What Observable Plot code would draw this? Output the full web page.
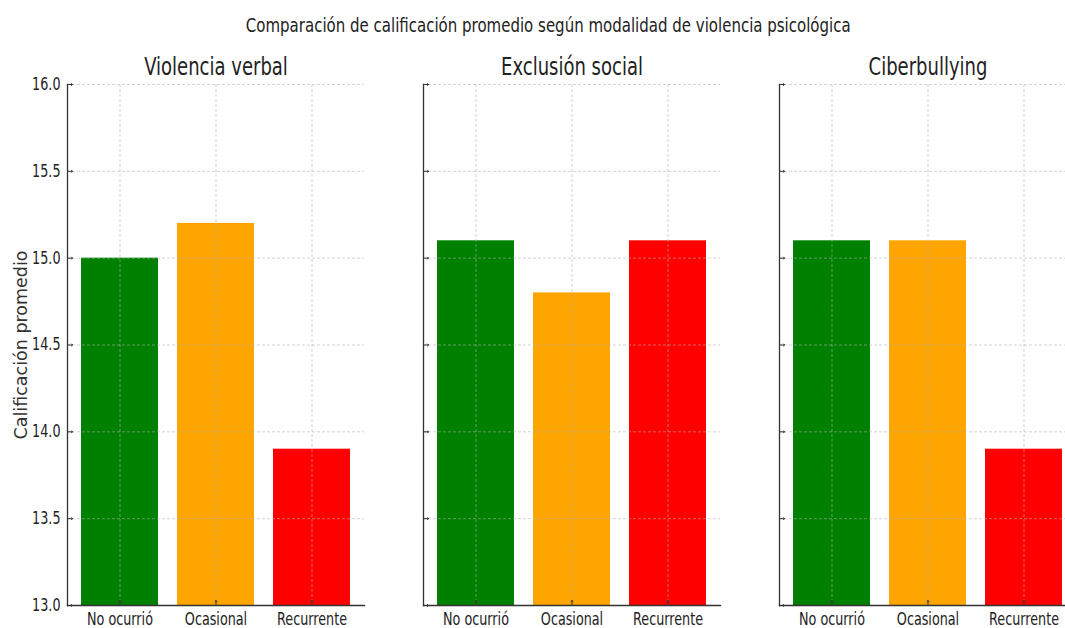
<!DOCTYPE html>
<html>
<head>
<meta charset="utf-8">
<script src="https://cdn.jsdelivr.net/npm/d3@7"></script>
<script src="https://cdn.jsdelivr.net/npm/@observablehq/plot@0.6"></script>
<style>
  html, body { margin: 0; padding: 0; background: #fff; }
  #root { position: relative; width: 1065px; height: 628px; overflow: hidden; font-family: "DejaVu Sans", sans-serif; color: #222; }
  #title { position: absolute; left: 0; top: 15px; width: 1096px; text-align: center; font-size: 20px; line-height: 20px; white-space: nowrap; }
  #title span { display: inline-block; transform: scaleX(0.75); transform-origin: center; }
  .panel { position: absolute; top: 0; }
</style>
</head>
<body>
<div id="root">
  <div id="title"><span>Comparación de calificación promedio según modalidad de violencia psicológica</span></div>
</div>
<script>
// ---- Data ----
const tituloGeneral = "Comparación de calificación promedio según modalidad de violencia psicológica";
const categorias = ["No ocurrió", "Ocasional", "Recurrente"];
const modalidades = ["Violencia verbal", "Exclusión social", "Ciberbullying"];
const violenciaVerbal = [15.0, 15.2, 13.9];
const exclusionSocial = [15.1, 14.8, 15.1];
const ciberbullying = [15.1, 15.1, 13.9];
const colores = ["green", "orange", "red"];
const yDominio = [13, 16];
const yTicks = [13.0, 13.5, 14.0, 14.5, 15.0, 15.5, 16.0];
const etiquetaY = "Calificación promedio";

// ---- Layout ----
const frameLefts = [67, 423, 779];
const ML = 67, MR = 10, FW = 297;
const SQUEEZE = 0.75;
const root = document.getElementById("root");

const series = [violenciaVerbal, exclusionSocial, ciberbullying];

series.forEach((vals, p) => {
  const data = categorias.map((c, i) => ({cat: c, v: vals[i]}));
  const first = p === 0;
  const gridStyle = {stroke: "#b0b0b0", strokeOpacity: 0.7, strokeWidth: 0.8, strokeDasharray: "3,2"};
  const marks = [
    Plot.barY(data, {x: "cat", y1: yDominio[0], y2: "v", fill: "cat"}),
    Plot.gridY(yTicks, gridStyle),
    Plot.gridX(categorias, gridStyle),
    Plot.frame({anchor: "left", stroke: "#333", strokeWidth: 1.3}),
    Plot.frame({anchor: "bottom", stroke: "#333", strokeWidth: 1.3}),
    Plot.vector(yTicks, {y: d => d, frameAnchor: "left", length: 5, rotate: 90, anchor: "start", stroke: "#333", strokeWidth: 1}),
    Plot.vector(categorias, {x: d => d, frameAnchor: "bottom", length: 5, rotate: 0, anchor: "start", stroke: "#333", strokeWidth: 1}),
    Plot.axisX({tickSize: 0, tickPadding: 7, fontSize: 17, label: null}),
    Plot.text([modalidades[p]], {frameAnchor: "top", lineAnchor: "middle", dy: -17, fontSize: 24, fill: "#222"})
  ];
  if (first) {
    marks.push(Plot.axisY(yTicks, {
      tickSize: 0, tickPadding: 7, fontSize: 17, tickFormat: d3.format(".1f"),
      label: etiquetaY, labelAnchor: "center", labelArrow: "none", labelOffset: 53
    }));
  }
  const chart = Plot.plot({
    width: ML + FW + MR,
    height: 628,
    marginLeft: ML, marginRight: MR, marginTop: 84, marginBottom: 23,
    style: {fontFamily: "DejaVu Sans", fontSize: "17px", color: "#222", background: "transparent", overflow: "visible"},
    x: {domain: categorias, paddingInner: 0.2, paddingOuter: 0.14, label: null},
    y: {domain: yDominio, label: null, axis: first ? undefined : null},
    color: {domain: categorias, range: colores},
    marks
  });
  chart.classList.add("panel");
  chart.style.left = (frameLefts[p] - ML) + "px";
  root.appendChild(chart);

  // Narrow the glyphs like the reference (horizontally condensed text)
  chart.querySelectorAll("text").forEach(t => {
    const lab = t.closest('[aria-label="y-axis label"]');
    if (lab) { t.setAttribute("font-size", "17.5"); t.setAttribute("fill", "#333"); return; }
    const w = t.getComputedTextLength();
    if (w > 0) {
      t.setAttribute("textLength", w * SQUEEZE);
      t.setAttribute("lengthAdjust", "spacingAndGlyphs");
    }
  });
});
</script>
</body>
</html>
